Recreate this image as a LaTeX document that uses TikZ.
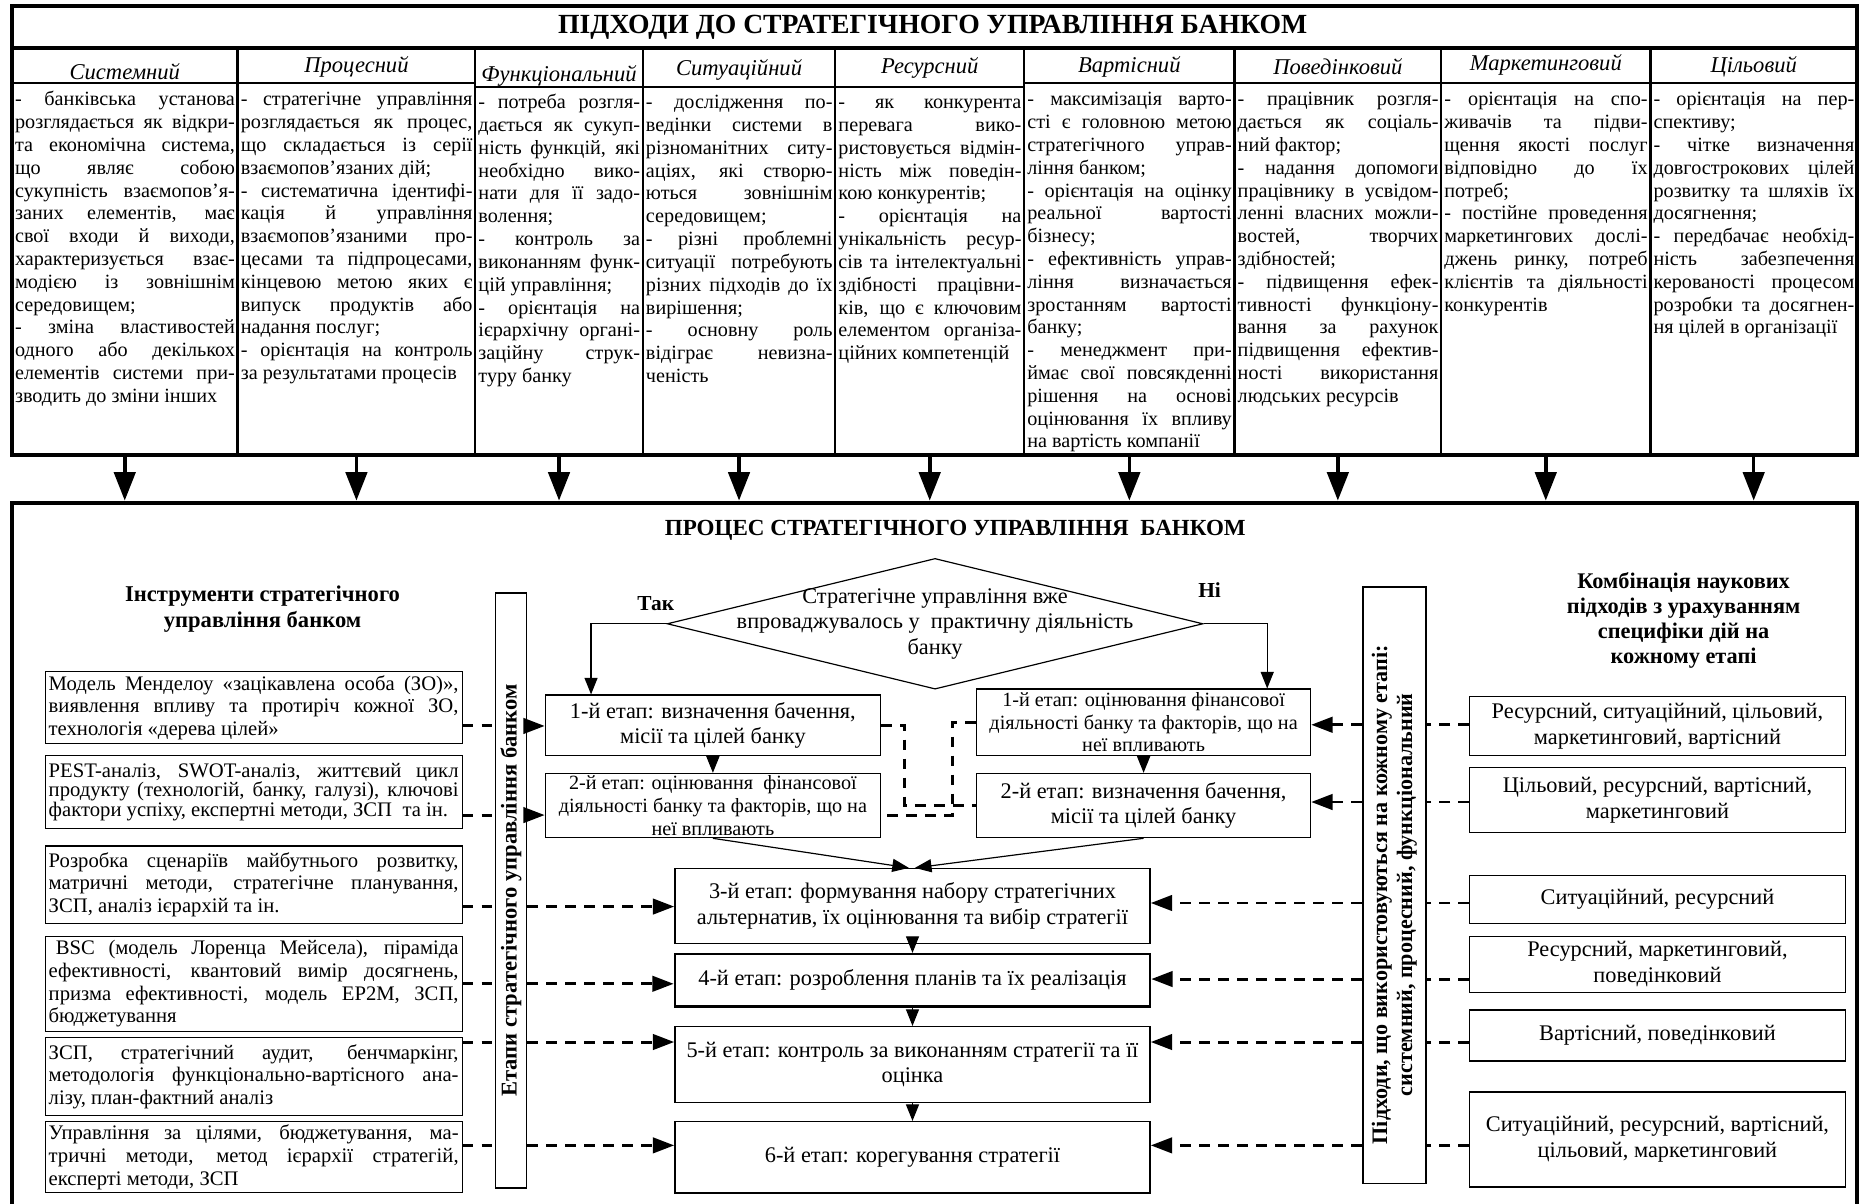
\documentclass[tikz,border=0pt]{standalone}
\usepackage{fontspec}
\setmainfont{Liberation Serif}
\usetikzlibrary{arrows.meta,fit,positioning,shapes.geometric}
\tolerance=10000
\hyphenpenalty=10000
\exhyphenpenalty=10000
\hbadness=10000
\tikzset{
  outerframe/.style={draw,line width=3.4pt,inner sep=0pt},
  gridline/.style={line width=2pt},
  rowline/.style={line width=1.7pt},
  maintitle/.style={font=\fontsize{23.3}{25}\selectfont\bfseries,inner sep=0pt},
  colhead/.style={font=\fontsize{19}{21}\selectfont\itshape,inner sep=0pt},
  colbody/.style={anchor=base west,inner sep=0pt,font=\fontsize{17}{19.2}\selectfont},
  heading/.style={font=\fontsize{19}{22}\selectfont\bfseries,align=center,inner sep=0pt},
  plaintext/.style={align=center,inner sep=0pt,font=\fontsize{18.8}{21.5}\selectfont},
  tool/.style={draw,line width=0.9pt,minimum width=351pt,inner sep=0pt,font=\fontsize{17.4}{19}\selectfont},
  stage/.style={plaintext,draw,line width=1.1pt},
  smallstage/.style={stage,font=\fontsize{17}{19}\selectfont},
  combo/.style={plaintext,draw,line width=1pt,minimum width=316pt},
  sidebar/.style={draw,line width=1.4pt,inner sep=0pt},
  barlabel/.style={rotate=90,align=center,font=\fontsize{18.6}{21}\selectfont\bfseries,inner sep=0pt},
  decision/.style={diamond,draw,line width=1pt,inner sep=0pt,minimum width=451pt,minimum height=110pt},
  answer/.style={font=\fontsize{18}{20}\selectfont\bfseries,inner sep=0pt},
  bigarrow/.style={-{Triangle[length=24pt,width=18pt]},line width=3pt},
  flowarrow/.style={-{Triangle[length=14pt,width=11pt]},line width=1pt},
  dashlink/.style={line width=2.5pt,dash pattern=on 9pt off 7pt},
  dasharrow/.style={dashlink,-{Triangle[length=18pt,width=13pt]}}
}

\begin{document}
\begin{tikzpicture}[x=1pt,y=-1pt]
  \useasboundingbox (0,0) rectangle (1568,1013);

  % approaches table
  \node[outerframe,fit={(10,5) (1563,383)}] (approaches) {};
  \node[maintitle] (approachtitle) at (785,23) {ПІДХОДИ ДО СТРАТЕГІЧНОГО УПРАВЛІННЯ БАНКОМ};
  \draw[line width=3.4pt] (10,40) -- (1563,40);
  \draw[rowline] (10,70) -- (400,70);
  \draw[rowline] (400,73) -- (862,73);
  \draw[rowline] (862,70) -- (1563,70);
  \foreach \x in {200,400,541,703,862,1039,1213,1389}
    \draw[gridline] (\x,40) -- (\x,383);

  \node[colhead] (h1) at (105,60) {Системний};
  \node[colhead] (h2) at (300,56) {Процесний};
  \node[colhead] (h3) at (470.5,64) {Функціональний};
  \node[colhead] (h4) at (622,59) {Ситуаційний};
  \node[colhead] (h5) at (782.5,57) {Ресурсний};
  \node[colhead] (h6) at (950.5,56) {Вартісний};
  \node[colhead] (h7) at (1126,56) {Поведінковий};
  \node[colhead] (h8) at (1301,55) {Маркетинговий};
  \node[colhead] (h9) at (1476,56) {Цільовий};

  \node[colbody] (b1) at (12.5,89) {\parbox[t]{185pt}{- банківська установа\linebreak
    розглядається як відкри-\linebreak
    та економічна система,\linebreak
    що являє собою\linebreak
    сукупність взаємопов’я-\linebreak
    заних елементів, має\linebreak
    свої входи й виходи,\linebreak
    характеризується взає-\linebreak
    модією із зовнішнім\linebreak
    середовищем;\\
    - зміна властивостей\linebreak
    одного або декількох\linebreak
    елементів системи при-\linebreak
    зводить до зміни інших}};
  \node[colbody] (b2) at (202.5,89) {\parbox[t]{195pt}{- стратегічне управління\linebreak
    розглядається як процес,\linebreak
    що складається із серії\linebreak
    взаємопов'язаних дій;\\
    - систематична ідентифі-\linebreak
    кація й управління\linebreak
    взаємопов’язаними про-\linebreak
    цесами та підпроцесами,\linebreak
    кінцевою метою яких є\linebreak
    випуск продуктів або\linebreak
    надання послуг;\\
    - орієнтація на контроль\linebreak
    за результатами процесів}};
  \node[colbody] (b3) at (402.5,91.5) {\parbox[t]{136pt}{- потреба розгля-\linebreak
    дається як сукуп-\linebreak
    ність функцій, які\linebreak
    необхідно вико-\linebreak
    нати для її задо-\linebreak
    волення;\\
    - контроль за\linebreak
    виконанням функ-\linebreak
    цій управління;\\
    - орієнтація на\linebreak
    ієрархічну органі-\linebreak
    заційну струк-\linebreak
    туру банку}};
  \node[colbody] (b4) at (543.5,91.5) {\parbox[t]{157pt}{- дослідження по-\linebreak
    ведінки системи в\linebreak
    різноманітних ситу-\linebreak
    аціях, які створю-\linebreak
    ються зовнішнім\linebreak
    середовищем;\\
    - різні проблемні\linebreak
    ситуації потребують\linebreak
    різних підходів до їх\linebreak
    вирішення;\\
    - основну роль\linebreak
    відіграє невизна-\linebreak
    ченість}};
  \node[colbody] (b5) at (705.5,91.5) {\parbox[t]{154pt}{- як конкурента\linebreak
    перевага вико-\linebreak
    ристовується відмін-\linebreak
    ність між поведін-\linebreak
    кою конкурентів;\\
    - орієнтація на\linebreak
    унікальність ресур-\linebreak
    сів та інтелектуальні\linebreak
    здібності працівни-\linebreak
    ків, що є ключовим\linebreak
    елементом організа-\linebreak
    ційних компетенцій}};
  \node[colbody] (b6) at (864.5,89) {\parbox[t]{172pt}{- максимізація варто-\linebreak
    сті є головною метою\linebreak
    стратегічного управ-\linebreak
    ління банком;\\
    - орієнтація на оцінку\linebreak
    реальної вартості\linebreak
    бізнесу;\\
    - ефективність управ-\linebreak
    ління визначається\linebreak
    зростанням вартості\linebreak
    банку;\\
    - менеджмент при-\linebreak
    ймає свої повсякденні\linebreak
    рішення на основі\linebreak
    оцінювання їх впливу\linebreak
    на вартість компанії}};
  \node[colbody] (b7) at (1041.5,89) {\parbox[t]{169pt}{- працівник розгля-\linebreak
    дається як соціаль-\linebreak
    ний фактор;\\
    - надання допомоги\linebreak
    працівнику в усвідом-\linebreak
    ленні власних можли-\linebreak
    востей, творчих\linebreak
    здібностей;\\
    - підвищення ефек-\linebreak
    тивності функціону-\linebreak
    вання за рахунок\linebreak
    підвищення ефектив-\linebreak
    ності використання\linebreak
    людських ресурсів}};
  \node[colbody] (b8) at (1215.5,89) {\parbox[t]{171pt}{- орієнтація на спо-\linebreak
    живачів та підви-\linebreak
    щення якості послуг\linebreak
    відповідно до їх\linebreak
    потреб;\\
    - постійне проведення\linebreak
    маркетингових дослі-\linebreak
    джень ринку, потреб\linebreak
    клієнтів та діяльності\linebreak
    конкурентів}};
  \node[colbody] (b9) at (1391.5,89) {\parbox[t]{169pt}{- орієнтація на пер-\linebreak
    спективу;\\
    - чітке визначення\linebreak
    довгострокових цілей\linebreak
    розвитку та шляхів їх\linebreak
    досягнення;\\
    - передбачає необхід-\linebreak
    ність забезпечення\linebreak
    керованості процесом\linebreak
    розробки та досягнен-\linebreak
    ня цілей в організації}};

  % process frame
  \node[outerframe,fit={(10,423) (1563,1040)}] (process) {};
  \foreach \i in {1,...,9}
    \draw[bigarrow] (approaches.south -| h\i) -- (process.north -| h\i);

  \node[heading,font=\fontsize{19.4}{22}\selectfont\bfseries] (processtitle) at (804,446) {ПРОЦЕС СТРАТЕГІЧНОГО УПРАВЛІННЯ\ \ БАНКОМ};
  \node[heading] (toolhead) at (221,513) {Інструменти стратегічного\\управління банком};
  \node[heading,font=\fontsize{18.8}{21}\selectfont\bfseries] (combohead) at (1417,522) {Комбінація наукових\\підходів з урахуванням\\специфіки дій на\\кожному етапі};

  \node[tool,minimum height=61pt] (tool1) at (213.5,595.5) {\parbox{345pt}{Модель Менделоу «зацікавлена особа (ЗО)»,\linebreak
    виявлення впливу та протиріч кожної ЗО,\linebreak
    технологія «дерева цілей»}};
  \node[tool,minimum height=61pt,font=\fontsize{17.4}{16.5}\selectfont] (tool2) at (213.5,666.5) {\parbox{345pt}{PEST-аналіз, SWOT-аналіз, життєвий цикл\linebreak
    продукту (технологій, банку, галузі), ключові\linebreak
    фактори успіху, експертні методи, ЗСП\ \ та ін.}};
  \node[tool,minimum height=65pt] (tool3) at (213.5,744.5) {\parbox{345pt}{Розробка сценаріїв майбутнього розвитку,\linebreak
    матричні методи, стратегічне планування,\linebreak
    ЗСП, аналіз ієрархій та ін.}};
  \node[tool,minimum height=80pt] (tool4) at (213.5,828) {\parbox{345pt}{\hspace*{6pt}BSC (модель Лоренца Мейсела), піраміда\linebreak
    ефективності, квантовий вимір досягнень,\linebreak
    призма ефективності, модель ЕР2М, ЗСП,\linebreak
    бюджетування}};
  \node[tool,minimum height=66pt] (tool5) at (213.5,906) {\parbox{345pt}{ЗСП, стратегічний аудит, бенчмаркінг,\linebreak
    методологія функціонально-вартісного ана-\linebreak
    лізу, план-фактний аналіз}};
  \node[tool,minimum height=60pt] (tool6) at (213.5,974) {\parbox{345pt}{Управління за цілями, бюджетування, ма-\linebreak
    тричні методи, метод ієрархії стратегій,\linebreak
    експерті методи, ЗСП}};

  \node[sidebar,minimum width=26pt,minimum height=501pt] (stagebar) at (430,749.5) {};
  \node[barlabel,font=\fontsize{19}{21}\selectfont\bfseries] (stagelabel) at (stagebar) {Етапи стратегічного управління банком};
  \node[sidebar,minimum width=53pt,minimum height=502pt] (approachbar) at (1173.5,745) {};
  \node[barlabel] (approachlabel) at ([yshift=-8pt]approachbar.center) {Підходи, що використовуються на кожному етапі:\\системний, процесний, функціональний};

  \node[decision] (implemented) at (787,525) {};
  \node[plaintext] (implementedtext) at (implemented) {Стратегічне управління вже\\впроваджувалось у\ \ практичну діяльність\\банку};
  \node[answer] (yes) at (552,508) {Так};
  \node[answer] (no) at (1018,497) {Ні};

  \node[stage,minimum width=282pt,minimum height=51pt] (sL1) at (600,610.5) {1-й етап: визначення бачення,\\місії та цілей банку};
  \node[smallstage,minimum width=282pt,minimum height=54pt] (sL2) at (600,678) {2-й етап: оцінювання\ \ фінансової\\діяльності банку та факторів, що на\\неї впливають};
  \node[smallstage,minimum width=281pt,minimum height=56pt] (sR1) at (962.5,608) {1-й етап: оцінювання фінансової\\діяльності банку та факторів, що на\\неї впливають};
  \node[stage,minimum width=281pt,minimum height=54pt] (sR2) at (962.5,678) {2-й етап: визначення бачення,\\місії та цілей банку};
  \node[stage,minimum width=400pt,minimum height=63pt] (s3) at (768,762.5) {3-й етап: формування набору стратегічних\\альтернатив, їх оцінювання та вибір стратегії};
  \node[stage,line width=2pt,minimum width=400pt,minimum height=44pt] (s4) at (768,825) {4-й етап: розроблення планів та їх реалізація};
  \node[stage,minimum width=400pt,minimum height=64pt] (s5) at (768,896) {5-й етап: контроль за виконанням стратегії та її\\оцінка};
  \node[stage,minimum width=400pt,minimum height=60pt] (s6) at (768,974) {6-й етап: корегування стратегії};

  \node[combo,minimum height=50pt] (combo1) at (1395,611) {Ресурсний, ситуаційний, цільовий,\\маркетинговий, вартісний};
  \node[combo,minimum height=55pt] (combo2) at (1395,673.5) {Цільовий, ресурсний, вартісний,\\маркетинговий};
  \node[combo,minimum height=40pt] (combo3) at (1395,757) {Ситуаційний, ресурсний};
  \node[combo,minimum height=47pt] (combo4) at (1395,811.5) {Ресурсний, маркетинговий,\\поведінковий};
  \node[combo,minimum height=43pt] (combo5) at (1395,871.5) {Вартісний, поведінковий};
  \node[combo,minimum height=80pt] (combo6) at (1395,959) {Ситуаційний, ресурсний, вартісний,\\цільовий, маркетинговий};

  \draw[flowarrow] (implemented.west) -| ([xshift=39pt]sL1.north west);
  \draw[flowarrow] (implemented.east) -| ([xshift=-37pt]sR1.north east);
  \draw[flowarrow] (sL1) -- (sL2);
  \draw[flowarrow] (sR1) -- (sR2);
  \draw[flowarrow] (sL2.south) -- ([xshift=-3pt]s3.north);
  \draw[flowarrow] (sR2.south) -- ([xshift=2pt]s3.north);
  \draw[flowarrow] (s3) -- (s4);
  \draw[flowarrow] (s4) -- (s5);
  \draw[flowarrow] (s5) -- (s6);

  \draw[dashlink] (sL1.east) -- ++(20,0) |- (sR2.west);
  \draw[dashlink] (sR1.west) -- ++(-20,0) |- ([yshift=-8pt]sL2.east);

  \coordinate (lrow1) at (0,611);
  \coordinate (lrow2) at (0,686);
  \coordinate (lrow3) at (0,763);
  \coordinate (lrow4) at (0,828);
  \coordinate (lrow5) at (0,877);
  \coordinate (lrow6) at (0,964);
  \coordinate (rrow1) at (0,610);
  \coordinate (rrow2) at (0,675);
  \coordinate (rrow3) at (0,760);
  \coordinate (rrow4) at (0,824);
  \coordinate (rrow5) at (0,877);
  \coordinate (rrow6) at (0,964);

  \foreach \i/\s in {1/sL1,2/sL2,3/s3,4/s4,5/s5,6/s6} {
    \draw[dashlink] (tool\i.east |- lrow\i) -- (stagebar.west |- lrow\i);
    \draw[dasharrow] (stagebar.east |- lrow\i) -- (\s.west |- lrow\i);
  }
  \foreach \i/\s in {1/sR1,2/sR2,3/s3,4/s4,5/s5,6/s6} {
    \draw[dashlink] (combo\i.west |- rrow\i) -- (approachbar.east |- rrow\i);
    \draw[dasharrow] (approachbar.west |- rrow\i) -- (\s.east |- rrow\i);
  }
\end{tikzpicture}
\end{document}
